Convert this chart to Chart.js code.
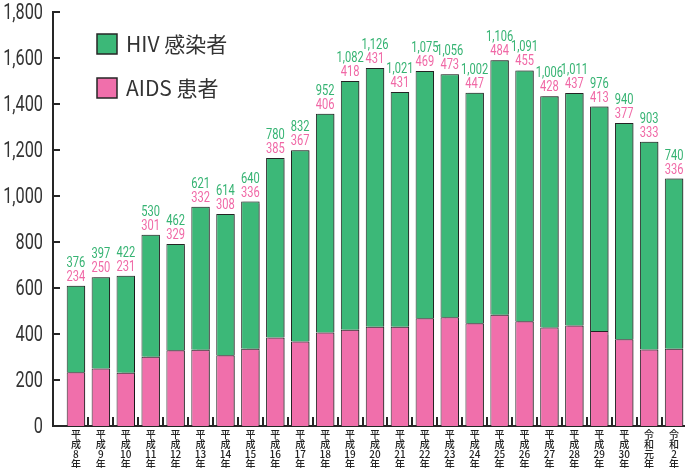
<!DOCTYPE html>
<html lang="ja">
<head>
<meta charset="utf-8">
<title>HIV感染者・AIDS患者 報告数</title>
<script src="https://cdn.jsdelivr.net/npm/chart.js@4/dist/chart.umd.min.js"></script>
<style>
  html, body { margin: 0; padding: 0; background: #fff; overflow: hidden; }
  #wrap { width: 685px; height: 468px; }
</style>
</head>
<body>
<div id="wrap"><canvas id="hivChart" width="685" height="468"></canvas></div>
<script>
// ---- data ----
const years = ['平成8年', '平成9年', '平成10年', '平成11年', '平成12年', '平成13年', '平成14年',
  '平成15年', '平成16年', '平成17年', '平成18年', '平成19年', '平成20年', '平成21年', '平成22年',
  '平成23年', '平成24年', '平成25年', '平成26年', '平成27年', '平成28年', '平成29年', '平成30年',
  '令和元年', '令和2年'];
const hivCases = [376, 397, 422, 530, 462, 621, 614, 640, 780, 832, 952, 1082, 1126, 1021, 1075,
  1056, 1002, 1106, 1091, 1006, 1011, 976, 940, 903, 740];
const aidsCases = [234, 250, 231, 301, 329, 332, 308, 336, 385, 367, 406, 418, 431, 431, 469,
  473, 447, 484, 455, 428, 437, 413, 377, 333, 336];
const yTicks = [0, 200, 400, 600, 800, 1000, 1200, 1400, 1600, 1800];

const GREEN = '#3cb878';
const PINK = '#f06fab';
const GREEN_TXT = '#35b372';
const PINK_TXT = '#f068a6';
const INK = '#262626';
const NARROW = '"Liberation Sans Narrow", Roboto, sans-serif';

const fmt = v => v.toLocaleString('en-US');
// "平成10年" -> ['平','成','10','年'] (stacked vertical label)
const stackLabel = s => s.match(/\d+|./g);

// squeezed text, the original uses a condensed face
function narrowText(ctx, text, x, y, sx) {
  ctx.save();
  ctx.translate(x, y);
  ctx.scale(sx, 1);
  ctx.fillText(text, 0, 0);
  ctx.restore();
}

// inward tick marks on both axes + y tick labels
const axisDecor = {
  id: 'axisDecor',
  afterDraw(chart) {
    const { ctx, chartArea, scales } = chart;
    ctx.save();
    ctx.strokeStyle = INK;
    ctx.lineWidth = 2;
    ctx.beginPath();
    scales.y.ticks.forEach(t => {
      if (t.value === 0) return;
      const py = Math.round(scales.y.getPixelForValue(t.value));
      ctx.moveTo(chartArea.left - 1, py);
      ctx.lineTo(chartArea.left + 7, py);
    });
    for (let i = 0; i < years.length - 1; i++) {
      const px = Math.round(scales.x.getPixelForValue(i + 0.5));
      ctx.moveTo(px, chartArea.bottom);
      ctx.lineTo(px, chartArea.bottom - 9);
    }
    ctx.stroke();

    ctx.fillStyle = '#333';
    ctx.font = '22px ' + NARROW;
    ctx.textAlign = 'right';
    ctx.textBaseline = 'middle';
    scales.y.ticks.forEach(t => {
      narrowText(ctx, fmt(t.value), chartArea.left - 10, scales.y.getPixelForValue(t.value) + 1, 0.74);
    });
    ctx.restore();
  }
};

// value labels over each bar (HIV on top, AIDS below)
const barValues = {
  id: 'barValues',
  afterDatasetsDraw(chart) {
    const { ctx } = chart;
    const meta = chart.getDatasetMeta(1);
    ctx.save();
    ctx.font = '15px ' + NARROW;
    ctx.textAlign = 'center';
    ctx.textBaseline = 'alphabetic';
    meta.data.forEach((bar, i) => {
      ctx.fillStyle = PINK_TXT;
      narrowText(ctx, fmt(aidsCases[i]), bar.x, bar.y - 5, 0.74);
      ctx.fillStyle = GREEN_TXT;
      narrowText(ctx, fmt(hivCases[i]), bar.x, bar.y - 19, 0.74);
    });
    ctx.restore();
  }
};

// legend boxes inside the plot, top left
const boxLegend = {
  id: 'boxLegend',
  afterDraw(chart) {
    const { ctx } = chart;
    const items = [
      { ds: chart.data.datasets[1], y: 34 },
      { ds: chart.data.datasets[0], y: 78 }
    ];
    ctx.save();
    ctx.font = '21px "Noto Sans CJK JP", sans-serif';
    ctx.textBaseline = 'middle';
    items.forEach(it => {
      ctx.fillStyle = it.ds.backgroundColor;
      ctx.fillRect(97, it.y, 20, 20);
      ctx.strokeStyle = INK;
      ctx.lineWidth = 1.5;
      ctx.strokeRect(97, it.y, 20, 20);
      ctx.fillStyle = '#333';
      ctx.fillText(it.ds.label, 126, it.y + 10);
    });
    ctx.restore();
  }
};

// light shadow on the right of bars
const barShadow = {
  id: 'barShadow',
  beforeDatasetsDraw(chart) {
    const ctx = chart.ctx;
    ctx.save();
    ctx.shadowColor = 'rgba(0,0,0,0.35)';
    ctx.shadowOffsetX = 2;
    ctx.shadowOffsetY = 0;
    ctx.shadowBlur = 1;
  },
  afterDatasetsDraw(chart) {
    chart.ctx.restore();
  }
};

const ctx = document.getElementById('hivChart');
new Chart(ctx, {
  type: 'bar',
  data: {
    datasets: [{
      label: 'AIDS 患者',
      data: aidsCases.map((v, i) => ({ x: i, y: v })),
      backgroundColor: PINK,
      borderColor: INK,
      borderWidth: 1
    }, {
      label: 'HIV 感染者',
      data: hivCases.map((v, i) => ({ x: i, y: v })),
      backgroundColor: GREEN,
      borderColor: INK,
      borderWidth: 1
    }]
  },
  options: {
    responsive: false,
    animation: false,
    devicePixelRatio: 1,
    categoryPercentage: 1,
    barPercentage: 0.74,
    layout: { padding: { top: 12, left: 0, right: 0, bottom: 0 } },
    plugins: {
      legend: { display: false },
      tooltip: { enabled: false }
    },
    scales: {
      x: {
        type: 'linear',
        stacked: true,
        min: -0.92,
        max: 24.44,
        offset: false,
        grid: { display: false, drawTicks: false },
        border: { display: true, color: INK, width: 2 },
        afterBuildTicks: scale => { scale.ticks = years.map((_, i) => ({ value: i })); },
        afterFit: scale => { scale.height = 42; },
        ticks: {
          autoSkip: false,
          maxRotation: 0,
          minRotation: 0,
          padding: 3,
          color: '#222',
          font: { family: '"Noto Sans CJK JP", sans-serif', size: 10, weight: '500', lineHeight: 1.0 },
          callback: v => stackLabel(years[v] || '')
        }
      },
      y: {
        stacked: true,
        min: 0,
        max: 1800,
        grid: { display: false, drawTicks: false },
        border: { display: true, color: INK, width: 2 },
        afterBuildTicks: scale => { scale.ticks = yTicks.map(v => ({ value: v })); },
        afterFit: scale => { scale.width = 53; },
        ticks: { display: false }
      }
    }
  },
  plugins: [barShadow, barValues, axisDecor, boxLegend]
});
</script>
</body>
</html>
